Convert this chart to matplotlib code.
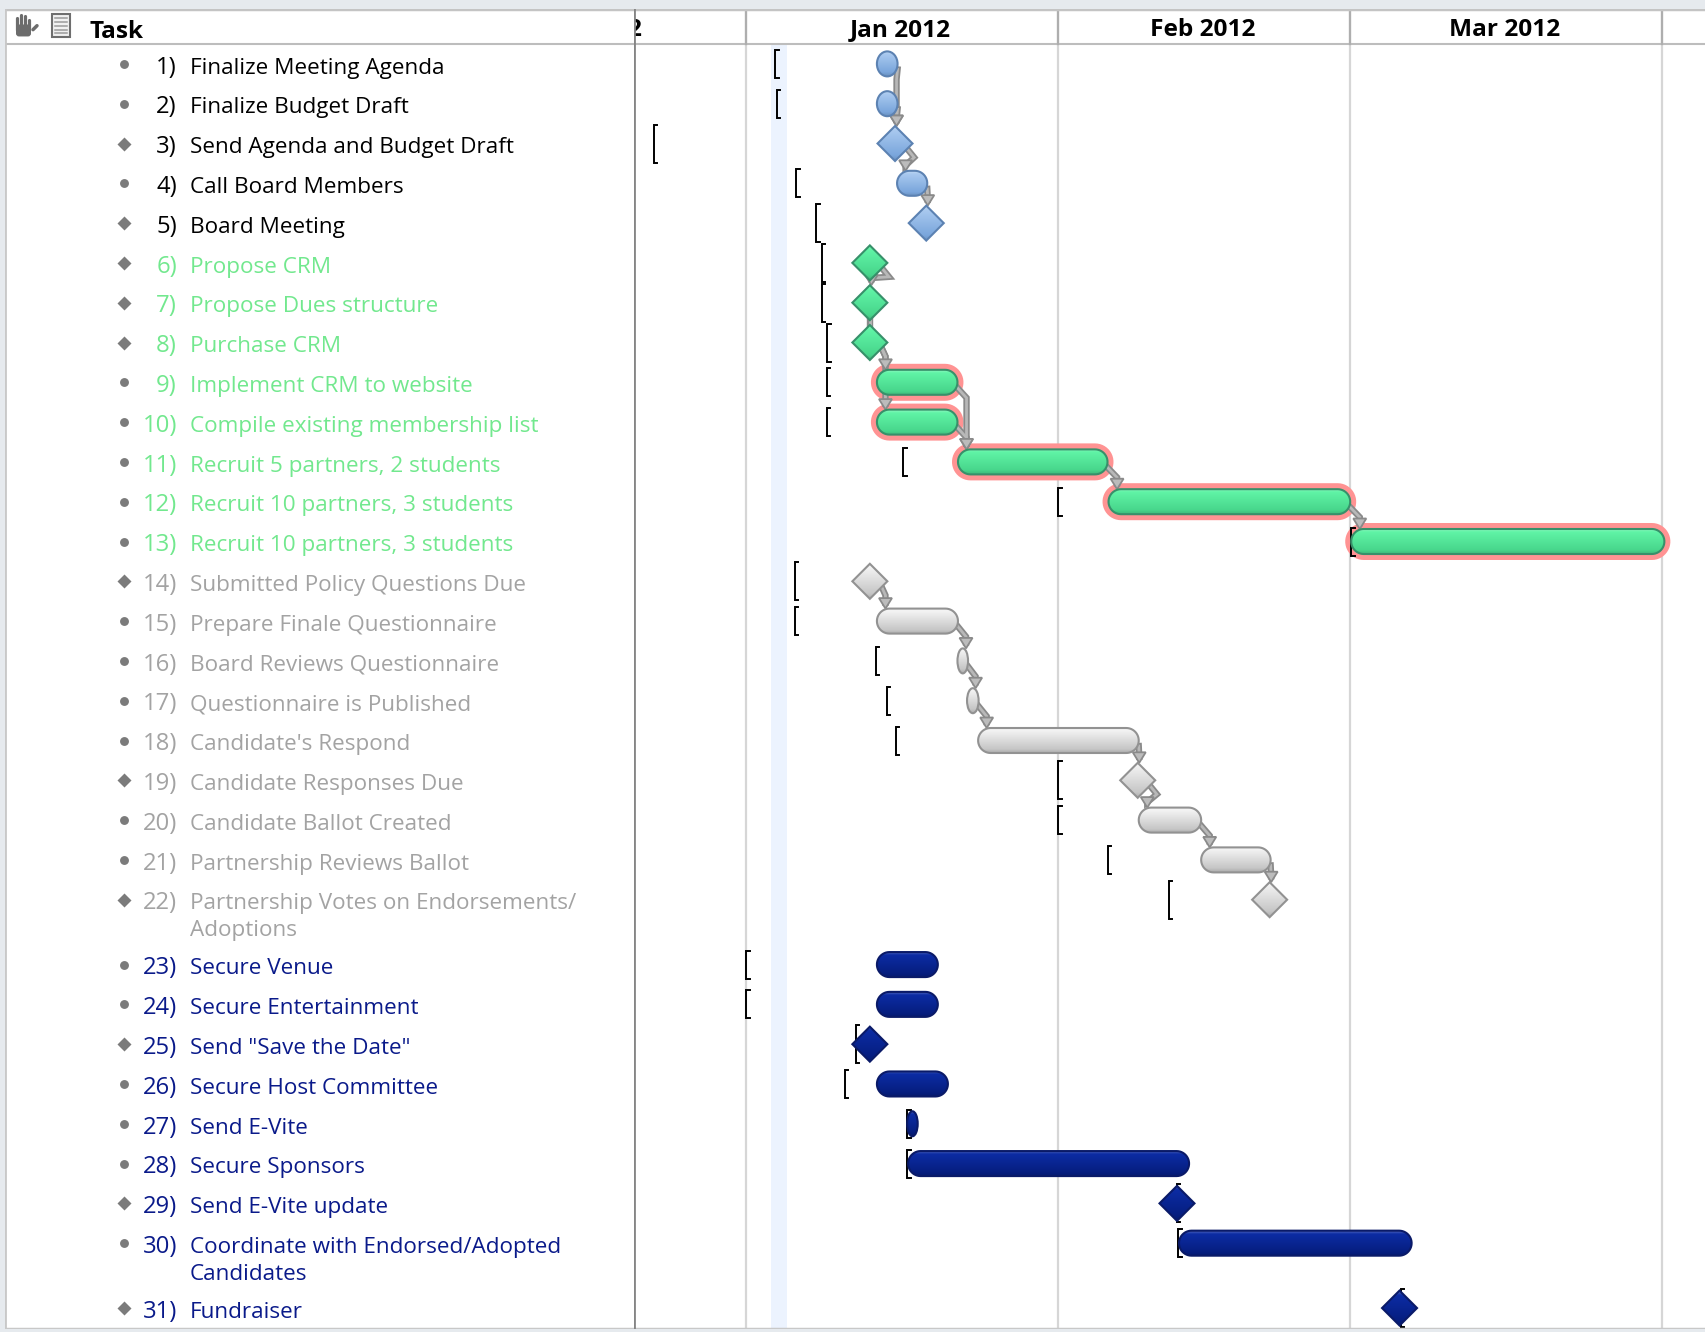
import numpy as np
import matplotlib
matplotlib.use("Agg")
import matplotlib.pyplot as plt
from matplotlib.colors import LinearSegmentedColormap, to_rgb
from matplotlib.patches import Ellipse, FancyBboxPatch, Polygon, Rectangle

FONT = "Open Sans"
plt.rcParams["font.family"] = [FONT, "DejaVu Sans"]

# ---- schedule, days counted from 1 Jan 2012 ----
task_names = [
    "Finalize Meeting Agenda", "Finalize Budget Draft", "Send Agenda and Budget Draft",
    "Call Board Members", "Board Meeting", "Propose CRM", "Propose Dues structure",
    "Purchase CRM", "Implement CRM to website", "Compile existing membership list",
    "Recruit 5 partners, 2 students", "Recruit 10 partners, 3 students",
    "Recruit 10 partners, 3 students", "Submitted Policy Questions Due",
    "Prepare Finale Questionnaire", "Board Reviews Questionnaire",
    "Questionnaire is Published", "Candidate's Respond", "Candidate Responses Due",
    "Candidate Ballot Created", "Partnership Reviews Ballot",
    "Partnership Votes on Endorsements/\nAdoptions", "Secure Venue", "Secure Entertainment",
    'Send "Save the Date"', "Secure Host Committee", "Send E-Vite", "Secure Sponsors",
    "Send E-Vite update", "Coordinate with Endorsed/Adopted\nCandidates", "Fundraiser",
]
task_group = ["board"] * 5 + ["crm"] * 8 + ["survey"] * 9 + ["event"] * 9
task_start = [13.0, 13.0, 14.8, 15.0, 17.9, 12.3, 12.3, 12.3, 13.0, 13.0, 21.05, 36.0, 60.1,
              12.3, 13.0, 21.0, 21.95, 23.05, 38.9, 39.0, 45.2, 52.0,
              13.0, 13.0, 12.3, 13.0, 16.0, 16.1, 42.8, 43.0, 64.9]
task_end = [15.05, 15.05, 14.8, 18.0, 17.9, 12.3, 12.3, 12.3, 21.0, 21.0, 35.9, 60.0, 91.2,
            12.3, 21.05, 22.05, 23.1, 39.0, 38.9, 45.2, 52.1, 52.0,
            19.05, 19.05, 12.3, 20.05, 17.05, 44.0, 42.8, 66.1, 64.9]
baseline_start = [2.9, 3.05, -9.15, 5.0, 7.0, 7.5, 7.5, 8.05, 8.0, 8.0, 15.6, 31.0, 60.1,
                  4.85, 4.85, 12.9, 14.0, 14.85, 31.0, 31.0, 35.9, 42.0,
                  0.0, 0.0, 10.9, 9.8, 16.0, 16.0, 42.8, 42.9, 65.0]
critical_tasks = [9, 10, 11, 12, 13]
task_links = [(1, 3), (2, 3), (3, 4), (4, 5), (6, 7), (8, 9), (8, 10), (9, 11), (10, 11),
              (11, 12), (12, 13), (14, 15), (15, 16), (16, 17), (17, 18), (18, 19), (19, 20),
              (20, 21), (21, 22)]
direct_links = [(7, 8)]
month_edges = [0, 31, 60, 91]
month_labels = ["Jan 2012", "Feb 2012", "Mar 2012"]
today_span = (2.5, 4.07)

name_colors = {"board": "#000000", "crm": "#72e88e", "survey": "#a3a3a3", "event": "#0a1a8a"}
bar_colors = {
    "board": ("#a9c9ef", "#7aa6dc", "#5c82b2"),
    "crm": ("#60f4a6", "#48d68c", "#37906a"),
    "survey": ("#f2f2f2", "#c6c6c6", "#929292"),
    "event": ("#0c2ca4", "#061e80", "#0a1a68"),
}

W, H = 1706, 1332
ROW_PX = 39.8
DAY_PX = 10.07
TOP, BOTTOM = 9, 1329
SPLIT = 634
TEXT_PT = 16.2
NUM_PT = 17.2
HEAD_PT = 17.6

# one row per task, the two wrapped rows are taller
row_sizes = [1.63 if "\n" in n else 1.0 for n in task_names]
row_top = np.concatenate([[0], np.cumsum(row_sizes)[:-1]])
row_mid = row_top + 0.5
ylims = ((BOTTOM - 44) / ROW_PX, (TOP - 44) / ROW_PX)


def px_axes(fig, x0, x1):
    return fig.add_axes([x0 / W, 1 - BOTTOM / H, (x1 - x0) / W, (BOTTOM - TOP) / H])


def mix(color, other, amount):
    return tuple((1 - amount) * c + amount * o for c, o in zip(to_rgb(color), to_rgb(other)))


fig = plt.figure(figsize=(W / 100, H / 100), dpi=100, facecolor="#e6eaee")
ax_names = px_axes(fig, 5, SPLIT)
ax = px_axes(fig, SPLIT, W)

for a in (ax_names, ax):
    a.set_ylim(*ylims)
    a.set_yticks([])
    a.set_facecolor("white")
    for s in a.spines.values():
        s.set_visible(False)
    a.axhline(0, color="#bdbdbd", lw=1.5, zorder=1)
    a.axhline(ylims[1], color="#c4c4c4", lw=2.5, zorder=6)
    a.axhline(ylims[0], color="#c8c8c8", lw=2.5, zorder=6)
ax_names.set_xlim(5, SPLIT)
ax_names.set_xticks([])
ax_names.axvline(5, color="#c8c8c8", lw=2, zorder=6)
ax.set_xlim((SPLIT - 746) / DAY_PX, (W - 746) / DAY_PX)
ax.axvline(ax.get_xlim()[0], color="#858585", lw=2, zorder=7)

# ---- task list ----
for i, name in enumerate(task_names):
    y = row_mid[i]
    is_milestone = task_start[i] == task_end[i]
    ax_names.plot(124, y, marker="D" if is_milestone else "o", ms=6.8 if is_milestone else 6.4,
                  color="#7b7b7b", mec="none", zorder=3)
    color = name_colors[task_group[i]]
    ax_names.text(177, y + 0.245, "%d)" % (i + 1), ha="right", va="baseline", color=color, fontsize=NUM_PT)
    for k, line in enumerate(name.split("\n")):
        ax_names.text(190, y + 0.245 + k * 0.67, line, ha="left", va="baseline", color=color, fontsize=TEXT_PT)
ax_names.text(90, -0.30, "Task", ha="left", va="center", fontsize=HEAD_PT, fontweight="bold", color="black")

# grabber and note icons in the header
ax_names.add_patch(FancyBboxPatch((18, -0.44), 11, 0.2, boxstyle="round,pad=2,rounding_size=3",
                                  mutation_aspect=1 / ROW_PX, fc="#6c6c6c", ec="none", zorder=3))
for fx, ftop in zip([17, 21, 25, 29], [-0.66, -0.72, -0.70, -0.60]):
    ax_names.plot([fx, fx], [ftop, -0.36], color="#6c6c6c", lw=2.3, solid_capstyle="round", zorder=3)
ax_names.plot([33, 37], [-0.36, -0.46], color="#6c6c6c", lw=2.5, solid_capstyle="round", zorder=3)
ax_names.add_patch(Rectangle((52, -0.76), 18, 0.58, fc="#f0f0f0", ec="#6e6e6e", lw=1.5, zorder=3))
for ly in [-0.66, -0.56, -0.46, -0.36, -0.28]:
    ax_names.plot([55, 67], [ly, ly], color="#9a9a9a", lw=1.1, zorder=4)

# ---- timeline grid ----
ax.axvspan(*today_span, ymin=0, ymax=1 - (0 - ylims[1]) / (ylims[0] - ylims[1]), fc="#ecf3fe", ec="none", zorder=0)
ax.set_xticks(month_edges)
ax.set_xticklabels([])
ax.tick_params(length=0)
ax.xaxis.grid(True, color="#d6d6d6", lw=1.6, zorder=1)
ax.set_axisbelow(True)
for edge in month_edges:
    ax.plot([edge, edge], [ylims[1], 0], color="#aeaeae", lw=1.6, zorder=2)
for label, a, b in zip(month_labels, month_edges[:-1], month_edges[1:]):
    ax.text((a + b) / 2 - 0.15, -0.36, label, ha="center", va="center", fontsize=HEAD_PT, fontweight="bold")
# tail of the month label cut off by the divider
ax.text(-10.4, -0.36, "2", ha="right", va="center", fontsize=HEAD_PT, fontweight="bold", clip_on=True)

# ---- gantt marks ----
BAR_H = 25 / ROW_PX
DIA_W = 17.5 / DAY_PX
DIA_H = 17.5 / ROW_PX


def is_milestone(i):
    return task_start[i] == task_end[i]


def pill(x0, x1, y, half_px):
    """Round ended bar, the ends are true half circles on screen."""
    t = np.linspace(-np.pi / 2, np.pi / 2, 24)
    rx, ry = half_px / DAY_PX, half_px / ROW_PX
    right = np.column_stack([x1 - rx + rx * np.cos(t), y + ry * np.sin(t)])
    left = np.column_stack([x0 + rx - rx * np.cos(t[::-1]), y + ry * np.sin(t[::-1])])
    return Polygon(np.vstack([right, left]))


def shape_for(i, grow=0.0):
    """Patch for task i, grown by some pixels for the critical path halo."""
    start, end, y = task_start[i], task_end[i], row_mid[i]
    gx, gy = grow / DAY_PX, grow / ROW_PX
    if start == end:
        return Polygon([(start - DIA_W - gx, y), (start, y - DIA_H - gy), (start + DIA_W + gx, y), (start, y + DIA_H + gy)])
    if end - start < 2.5:
        return Ellipse(((start + end) / 2, y), end - start + 2 * gx, BAR_H + 2 * gy)
    return pill(start - gx, end + gx, y, 12.5 + grow)


def stroke(xs, ys):
    ax.plot(xs, ys, color="#8a8a8a", lw=4.6, solid_joinstyle="miter", zorder=3)
    ax.plot(xs, ys, color="#b8b8b8", lw=2.0, solid_joinstyle="miter", zorder=3.1)


def draw_link(a, b):
    """Elbow arrow from the end of task a down to the top of task b."""
    x1, y1 = task_end[a], row_mid[a] + 0.14
    x2 = task_start[b] + 0.85
    if is_milestone(b):
        x2 = task_start[b] + 0.15
        ytip = row_mid[b] - DIA_H
    else:
        ytip = row_mid[b] - BAR_H / 2
    if is_milestone(a):
        x1 = task_start[a] + 1.1
        y1 = row_mid[a] + 0.1
    ymid = y1 + 0.25
    if is_milestone(a) and x2 < x1:
        # doubles back when the next task starts left of the milestone tip
        back = 0.03 if is_milestone(b) else 0.2
        xs, ys = [x1, x1 + 0.8, x2, x2], [y1, ymid, ymid + back, ytip - 0.15]
    else:
        xs, ys = [x1, x2, x2], [y1, ymid, ytip - 0.15]
    stroke(xs, ys)
    hw, hh = 6.5 / DAY_PX, 10.5 / ROW_PX
    ax.add_patch(Polygon([(x2 - hw, ytip - hh), (x2 + hw, ytip - hh), (x2, ytip)],
                         fc="#bcbcbc", ec="#8a8a8a", lw=1.3, zorder=3.2))


for i in critical_tasks:
    ax.add_patch(shape_for(i - 1, grow=6))
    ax.patches[-1].set(fc="#ff9393", ec="none", zorder=2.5)

for a, b in task_links:
    draw_link(a - 1, b - 1)
for a, b in direct_links:
    # milestones stacked on the same day, just a short stub between them
    x = task_start[a - 1]
    stroke([x, x], [row_mid[a - 1] + DIA_H - 0.05, row_mid[b - 1]])

for i in range(len(task_names)):
    top_c, bot_c, edge_c = bar_colors[task_group[i]]
    cmap = LinearSegmentedColormap.from_list("fill", [
        (0.0, mix(top_c, "white", 0.25)), (0.1, top_c), (0.85, bot_c), (1.0, mix(bot_c, "black", 0.12))])
    patch = shape_for(i)
    patch.set(fc="none", ec=edge_c, lw=1.5, zorder=5)
    ax.add_patch(patch)
    y = row_mid[i]
    half = DIA_H if is_milestone(i) else BAR_H / 2
    x0 = task_start[i] - DIA_W - 0.5
    x1 = task_end[i] + DIA_W + 0.5
    im = ax.imshow(np.linspace(0, 1, 32).reshape(-1, 1), extent=(x0, x1, y + half, y - half), cmap=cmap,
                   aspect="auto", zorder=4.5, interpolation="bilinear")
    im.set_clip_path(patch)

    # baseline start bracket
    bx = baseline_start[i]
    half_b = (19 if is_milestone(i) else 14) / ROW_PX
    tick = 3.5 / DAY_PX
    ax.plot([bx + tick, bx, bx, bx + tick], [y - half_b, y - half_b, y + half_b, y + half_b],
            color="black", lw=1.4, solid_joinstyle="miter", zorder=3.9)

ax.set_xlim((SPLIT - 746) / DAY_PX, (W - 746) / DAY_PX)
ax.set_ylim(*ylims)

fig.savefig("out.png", dpi=100, facecolor=fig.get_facecolor())
